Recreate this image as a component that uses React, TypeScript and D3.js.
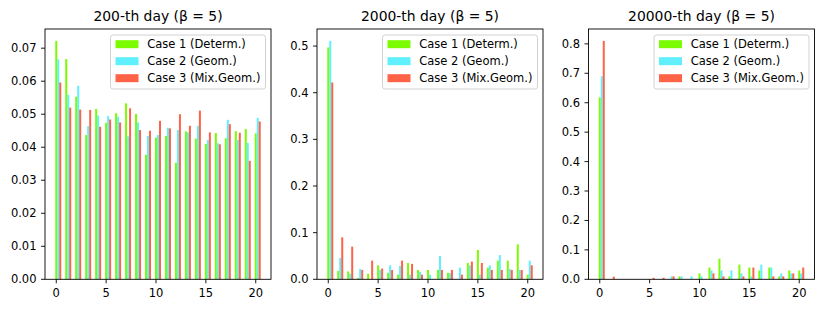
import { useRef, useEffect } from 'react';
import * as d3 from 'd3';

// x categories (day-of-cycle index) and tick labels
const categories = [0, 1, 2, 3, 4, 5, 6, 7, 8, 9, 10, 11, 12, 13, 14, 15, 16, 17, 18, 19, 20];
const xTicks = [0, 5, 10, 15, 20];

const seriesNames = ['Case 1 (Determ.)', 'Case 2 (Geom.)', 'Case 3 (Mix.Geom.)'];
const seriesColors = ['#7CFC00', '#5FEFFF', '#FF6347'];
const panelTitles = ['200-th day (β = 5)', '2000-th day (β = 5)', '20000-th day (β = 5)'];

// 200-th day
const day200Determ = [0.0722, 0.0667, 0.0553, 0.0437, 0.0516, 0.0474, 0.0503, 0.0533, 0.0501, 0.0377, 0.0429, 0.0434, 0.0353, 0.0448, 0.0426, 0.0410, 0.0443, 0.0427, 0.0449, 0.0455, 0.0442];
const day200Geom = [0.0666, 0.0559, 0.0586, 0.0464, 0.0496, 0.0494, 0.0492, 0.0433, 0.0475, 0.0434, 0.0437, 0.0459, 0.0452, 0.0445, 0.0465, 0.0422, 0.0412, 0.0483, 0.0422, 0.0413, 0.0489];
const day200Mix = [0.0596, 0.0520, 0.0514, 0.0513, 0.0462, 0.0484, 0.0475, 0.0518, 0.0452, 0.0450, 0.0480, 0.0457, 0.0500, 0.0465, 0.0511, 0.0445, 0.0409, 0.0470, 0.0444, 0.0359, 0.0478];

// 2000-th day
const day2000Determ = [0.497, 0.018, 0.017, 0.003, 0.012, 0.030, 0.014, 0.010, 0.035, 0.020, 0.020, 0.020, 0.014, 0.000, 0.035, 0.063, 0.025, 0.040, 0.040, 0.075, 0.010];
const day2000Geom = [0.511, 0.046, 0.012, 0.022, 0.000, 0.020, 0.030, 0.029, 0.010, 0.016, 0.010, 0.050, 0.013, 0.025, 0.030, 0.010, 0.030, 0.052, 0.022, 0.020, 0.040];
const day2000Mix = [0.422, 0.090, 0.070, 0.020, 0.040, 0.023, 0.020, 0.040, 0.033, 0.010, 0.000, 0.020, 0.020, 0.010, 0.038, 0.035, 0.020, 0.020, 0.020, 0.020, 0.030];

// 20000-th day
const day20000Determ = [0.618, 0.000, 0.000, 0.000, 0.000, 0.000, 0.000, 0.000, 0.010, 0.000, 0.020, 0.040, 0.070, 0.010, 0.050, 0.040, 0.030, 0.040, 0.010, 0.030, 0.030];
const day20000Geom = [0.690, 0.000, 0.000, 0.000, 0.000, 0.000, 0.000, 0.010, 0.010, 0.010, 0.010, 0.030, 0.030, 0.030, 0.020, 0.010, 0.050, 0.040, 0.020, 0.020, 0.020];
const day20000Mix = [0.810, 0.009, 0.000, 0.000, 0.000, 0.005, 0.005, 0.010, 0.000, 0.000, 0.000, 0.020, 0.010, 0.000, 0.010, 0.040, 0.000, 0.010, 0.010, 0.020, 0.040];

const panelSeries = [
  [day200Determ, day200Geom, day200Mix],
  [day2000Determ, day2000Geom, day2000Mix],
  [day20000Determ, day20000Geom, day20000Mix],
];
const panelYTicks = [
  [0, 0.01, 0.02, 0.03, 0.04, 0.05, 0.06, 0.07],
  [0, 0.1, 0.2, 0.3, 0.4, 0.5],
  [0, 0.1, 0.2, 0.3, 0.4, 0.5, 0.6, 0.7, 0.8],
];
const panelYFormat = ['.2f', '.1f', '.1f'];

export default function App() {
  const svgRef = useRef<SVGSVGElement | null>(null);

  useEffect(() => {
    const width = 830, height = 312;
    const font = "'DejaVu Sans', sans-serif";
    const panelLefts = [45, 317, 588.5];
    const panelWidth = 226;
    const top = 29, bottom = 279.3;
    const barW = 0.2;
    const tickLen = 4, lineW = 0.9;

    d3.select(svgRef.current).selectAll('*').remove();
    const svg = d3.select(svgRef.current)
      .attr('width', width)
      .attr('height', height)
      .style('font-family', font);

    svg.append('rect').attr('width', width).attr('height', height).attr('fill', 'white');

    panelSeries.forEach((series, p) => {
      const left = panelLefts[p];
      const right = left + panelWidth;
      const g = svg.append('g');

      // x: bars span [-0.1, 20.5], plus matplotlib's 5% margin
      const lo = categories[0] - barW / 2;
      const hi = categories[categories.length - 1] + 2 * barW + barW / 2;
      const pad = (hi - lo) * 0.05;
      const x = d3.scaleLinear().domain([lo - pad, hi + pad]).range([left, right]);

      const yMax = d3.max(series.flat()) || 1;
      const y = d3.scaleLinear().domain([0, yMax * 1.05]).range([bottom, top]);

      // bars: one group per category, series offset by one bar width
      series.forEach((vals, s) => {
        g.append('g')
          .selectAll('rect')
          .data(vals)
          .join('rect')
          .attr('x', (d, i) => x(categories[i] + s * barW - barW / 2))
          .attr('width', x(barW) - x(0))
          .attr('y', d => y(d))
          .attr('height', d => y(0) - y(d))
          .attr('fill', seriesColors[s]);
      });

      // y ticks
      const fmt = d3.format(panelYFormat[p]);
      panelYTicks[p].forEach(t => {
        g.append('line')
          .attr('x1', left - tickLen).attr('x2', left)
          .attr('y1', y(t)).attr('y2', y(t))
          .attr('stroke', 'black').attr('stroke-width', lineW);
        g.append('text')
          .attr('x', left - 8.5)
          .attr('y', y(t))
          .attr('dy', '0.35em')
          .attr('text-anchor', 'end')
          .style('font-size', '11.5px')
          .text(fmt(t));
      });

      // x ticks
      xTicks.forEach(t => {
        g.append('line')
          .attr('x1', x(t)).attr('x2', x(t))
          .attr('y1', bottom).attr('y2', bottom + tickLen)
          .attr('stroke', 'black').attr('stroke-width', lineW);
        g.append('text')
          .attr('x', x(t))
          .attr('y', bottom + 17.4)
          .attr('text-anchor', 'middle')
          .style('font-size', '11.5px')
          .text(String(t));
      });

      // frame
      g.append('rect')
        .attr('x', left).attr('y', top)
        .attr('width', panelWidth).attr('height', bottom - top)
        .attr('fill', 'none')
        .attr('stroke', 'black').attr('stroke-width', lineW);

      // title
      g.append('text')
        .attr('x', left + panelWidth / 2)
        .attr('y', 21)
        .attr('text-anchor', 'middle')
        .style('font-size', '13.9px')
        .text(panelTitles[p]);

      // legend
      const lw = 155, lh = 54;
      const lx = right - 5.5 - lw, ly = top + 6;
      const legend = g.append('g').attr('transform', `translate(${lx},${ly})`);
      legend.append('rect')
        .attr('width', lw).attr('height', lh)
        .attr('rx', 2.5).attr('ry', 2.5)
        .attr('fill', 'white').attr('fill-opacity', 0.8)
        .attr('stroke', '#cccccc').attr('stroke-width', lineW);
      seriesNames.forEach((name, s) => {
        const cy = 9.2 + s * 17;
        legend.append('rect')
          .attr('x', 5).attr('y', cy - 4)
          .attr('width', 23).attr('height', 8)
          .attr('fill', seriesColors[s]);
        legend.append('text')
          .attr('x', 36.7).attr('y', cy)
          .attr('dy', '0.35em')
          .style('font-size', '11.5px')
          .text(name);
      });
    });
  }, []);

  return <svg ref={svgRef} style={{ position: 'absolute', left: 0, top: 0 }}></svg>;
}
